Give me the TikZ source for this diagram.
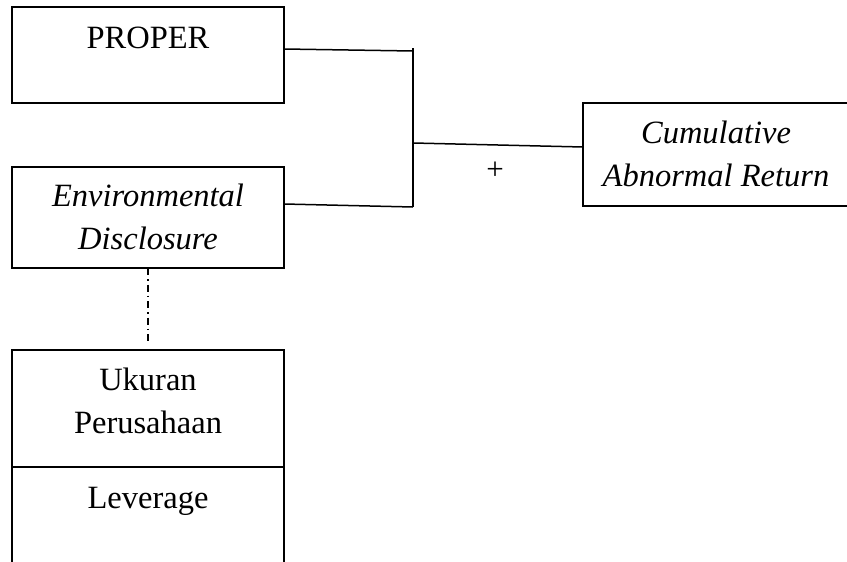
\documentclass[tikz,border=0pt]{standalone}
\usepackage{fontspec}
\setmainfont{Liberation Serif}
\begin{document}
\begin{tikzpicture}[x=1pt,y=-1pt,
  boxnode/.style={draw,line width=1.5pt,inner sep=0pt,outer sep=0pt,minimum width=272pt},
  lbl/.style={inner sep=0pt,anchor=base,align=center,font=\fontsize{32.5}{43}\selectfont},
  conn/.style={line width=1.5pt},
  dashdot/.style={line width=1.2pt,dash pattern=on 7pt off 4pt on 1.5pt off 4pt}]
\useasboundingbox (0,0) rectangle (847,562);
\clip (0,0) rectangle (847,562);
\node[boxnode,minimum height=96pt] (proper) at (148,55) {};
\node[boxnode,minimum height=101pt] (env) at (148,217.5) {};
\node[boxnode,minimum width=266pt,minimum height=103pt] (car) at (716,154.5) {};
\node[boxnode,minimum height=117pt] (ukuran) at (148,408.5) {};
\node[boxnode,minimum height=118pt] (lev) at (148,526) {};
\node[lbl] (tproper) at (148,48) {PROPER};
\node[lbl] (tenv) at (148,249) {\itshape Environmental\\\itshape Disclosure};
\node[lbl] (tcar) at (716,186) {\itshape Cumulative\\\itshape Abnormal Return};
\node[lbl] (tukuran) at (148,433) {Ukuran\\Perusahaan};
\node[lbl] (tlev) at (148,508) {Leverage};
\node[lbl,font=\fontsize{31}{36}\selectfont,anchor=center] (plus) at (495,171) {+};
\coordinate (jtop) at (413,48);
\coordinate (jp) at (413,51);
\coordinate (jmid) at (413,143);
\coordinate (je) at (413,207);
\draw[conn] ([yshift=6pt]proper.east) -- (jp);
\draw[conn] ([yshift=13.5pt]env.east) -- (je);
\draw[conn] (jtop) -- (je);
\draw[conn] (jmid) -- ([yshift=7.5pt]car.west);
\draw[dashdot] (env.south) -- ([yshift=7pt]ukuran.north);
\end{tikzpicture}
\end{document}
